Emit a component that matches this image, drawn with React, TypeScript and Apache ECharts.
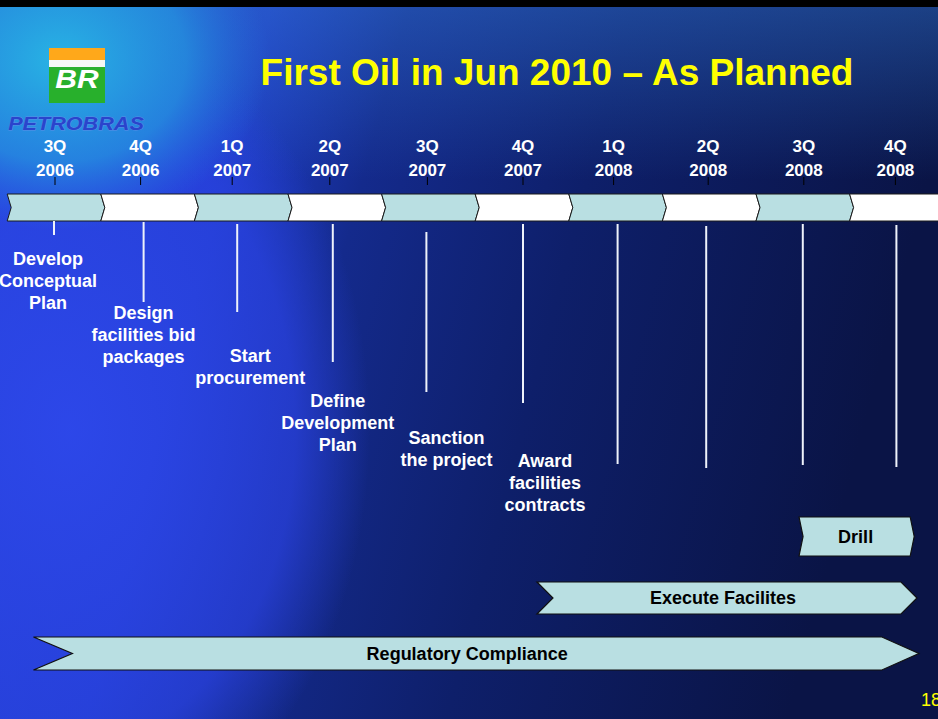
import React, { useEffect, useRef } from "react";
import * as echarts from "echarts";

// ---- data ----
const quarters = ["3Q", "4Q", "1Q", "2Q", "3Q", "4Q", "1Q", "2Q", "3Q", "4Q"];
const years = ["2006", "2006", "2007", "2007", "2007", "2007", "2008", "2008", "2008", "2008"];
const milestoneNames = [
  "Develop\nConceptual\nPlan",
  "Design\nfacilities bid\npackages",
  "Start\nprocurement",
  "Define\nDevelopment\nPlan",
  "Sanction\nthe project",
  "Award\nfacilities\ncontracts",
];
const milestoneQuarter = [0, 1, 2, 3, 4, 5];
const phaseNames = ["Drill", "Execute Facilites", "Regulatory Compliance"];
const phaseStart = [7.96, 5.16, -0.22];
const phaseEnd = [9.19, 9.22, 9.24];
const titleText = "First Oil in Jun 2010 – As Planned";
const pageNumber = "18";

// ---- layout (positions / sizes, not data) ----
const W = 938;
const H = 719;
const firstQuarterX = 54;
const quarterStep = 93.6;
const bandTop = 194;
const bandBottom = 221;
const qLabelDx = [1, -7, -9, -5, -1, 1, -2, -1, 1, -1];
const qLabelY = 146;
const yearLabelY = 170;
const tickTop = 177;
const tickBottom = 185;
const lineTop = [221, 222, 224, 224, 232, 224, 224, 226, 224, 225];
const lineBottom = [235, 302, 312, 362, 392, 403, 464, 468, 465, 467];
const lineDx = [0, -4, -4, -2, -2, 1, 2, -3, 0, 0];
const labelDx = [-6, -4, 9, 3, 18, 23];
const labelFirstY = [259, 313, 356, 401, 438, 461];
const phaseTop = [517, 582, 637];
const phaseBottom = [556, 614, 670];
const phaseNotch = [4, 16, 39];
const phasePoint = [4, 16, 37];
const phaseLabelDx = [-1, -4, -9];

const FONT = '"Liberation Sans", Arial, Helvetica, sans-serif';
const CYAN = "#b9dfe2";

export default function App() {
  const ref = useRef<HTMLDivElement>(null);
  useEffect(() => {
    if (!ref.current) return;
    const chart = echarts.init(ref.current, undefined, { renderer: "svg" });

    const option: any = {
      animation: false,
      backgroundColor: "#0b1548",
      grid: { left: 0, right: 0, top: 0, bottom: 0, containLabel: false },
      xAxis: {
        type: "value",
        min: -firstQuarterX / quarterStep,
        max: (W - firstQuarterX) / quarterStep,
        show: false,
      },
      yAxis: { type: "value", min: 0, max: H, inverse: true, show: false },
      graphic: {
        elements: [
          {
            type: "rect",
            z: -20,
            silent: true,
            shape: { x: 0, y: 0, width: W, height: H },
            style: {
              fill: new echarts.graphic.LinearGradient(0, 0, 1, 0.2, [
                { offset: 0, color: "#2447d8" },
                { offset: 0.28, color: "#1e3cc4" },
                { offset: 0.42, color: "#142a8c" },
                { offset: 0.65, color: "#0e1f6a" },
                { offset: 1, color: "#0a1446" },
              ]),
            },
          },
          {
            type: "rect",
            z: -19,
            silent: true,
            shape: { x: 0, y: 0, width: W, height: 180 },
            style: {
              fill: new echarts.graphic.LinearGradient(0, 0, 0, 1, [
                { offset: 0, color: "rgba(50,120,210,0.45)" },
                { offset: 1, color: "rgba(50,120,210,0)" },
              ]),
            },
          },
          {
            type: "ellipse",
            z: -18,
            silent: true,
            shape: { cx: 70, cy: 430, rx: 300, ry: 420 },
            style: {
              fill: new echarts.graphic.RadialGradient(0.5, 0.5, 0.5, [
                { offset: 0, color: "rgba(46,72,236,0.9)" },
                { offset: 0.75, color: "rgba(42,66,226,0.7)" },
                { offset: 1, color: "rgba(42,66,226,0)" },
              ]),
            },
          },
          {
            type: "ellipse",
            z: -17,
            silent: true,
            shape: { cx: 60, cy: 60, rx: 210, ry: 170 },
            style: {
              fill: new echarts.graphic.RadialGradient(0.5, 0.5, 0.5, [
                { offset: 0, color: "rgba(40,180,228,1)" },
                { offset: 0.6, color: "rgba(36,150,224,0.75)" },
                { offset: 1, color: "rgba(36,120,224,0)" },
              ]),
            },
          },
          {
            type: "rect",
            z: 10,
            silent: true,
            shape: { x: 0, y: 0, width: W, height: 7 },
            style: { fill: "#000000" },
          },
          // logo
          { type: "rect", z: 10, silent: true, shape: { x: 49, y: 48, width: 56, height: 55 }, style: { fill: "#f4f8f4" } },
          { type: "rect", z: 11, silent: true, shape: { x: 49, y: 48, width: 56, height: 12 }, style: { fill: "#ffa81a" } },
          { type: "rect", z: 11, silent: true, shape: { x: 49, y: 67, width: 56, height: 36 }, style: { fill: "#28b02c" } },
          {
            type: "text",
            z: 12,
            silent: true,
            x: 77,
            y: 79,
            scaleX: 1.2,
            style: {
              text: "BR",
              fill: "#ffffff",
              font: "italic bold 25px " + FONT,
              align: "center",
              verticalAlign: "middle",
            },
          },
          {
            type: "text",
            z: 12,
            silent: true,
            x: 76,
            y: 124,
            scaleX: 1.2,
            style: {
              text: "PETROBRAS",
              fill: "#2a44cc",
              stroke: "#5b8ee8",
              lineWidth: 0.8,
              font: "italic bold 18px " + FONT,
              align: "center",
              verticalAlign: "middle",
            },
          },
          {
            type: "text",
            z: 12,
            silent: true,
            x: 557,
            y: 72,
            style: {
              text: titleText,
              fill: "#ffff00",
              font: "bold 37px " + FONT,
              align: "center",
              verticalAlign: "middle",
            },
          },
          {
            type: "text",
            z: 12,
            silent: true,
            x: 921,
            y: 700,
            style: {
              text: pageNumber,
              fill: "#ffff00",
              font: "18px " + FONT,
              align: "left",
              verticalAlign: "middle",
            },
          },
        ],
      },
      series: [
        {
          type: "custom",
          name: "quarters",
          silent: true,
          data: quarters.map((_, i) => [i]),
          renderItem: (params: any, api: any) => {
            const i = api.value(0);
            const x = api.coord([i, 0])[0] + qLabelDx[i];
            const yq = api.coord([i, qLabelY])[1];
            const yy = api.coord([i, yearLabelY])[1];
            const t0 = api.coord([i, tickTop])[1];
            const t1 = api.coord([i, tickBottom])[1];
            return {
              type: "group",
              children: [
                {
                  type: "text",
                  x,
                  y: yq,
                  style: {
                    text: quarters[i],
                    fill: "#ffffff",
                    font: "bold 17px " + FONT,
                    align: "center",
                    verticalAlign: "middle",
                  },
                },
                {
                  type: "text",
                  x,
                  y: yy,
                  style: {
                    text: years[i],
                    fill: "#ffffff",
                    font: "bold 17px " + FONT,
                    align: "center",
                    verticalAlign: "middle",
                  },
                },
                {
                  type: "line",
                  shape: { x1: x, y1: t0, x2: x, y2: t1 },
                  style: { stroke: "#000000", lineWidth: 1 },
                },
              ],
            };
          },
        },
        {
          type: "custom",
          name: "band",
          silent: true,
          data: quarters.map((_, i) => [i]),
          renderItem: (params: any, api: any) => {
            const i = api.value(0);
            const a = api.coord([i - 0.5, bandTop]);
            const b = api.coord([i + 0.5, bandBottom]);
            const mid = (a[1] + b[1]) / 2;
            const d = 4;
            return {
              type: "polygon",
              shape: {
                points: [
                  [a[0], a[1]],
                  [b[0], a[1]],
                  [b[0] + d, mid],
                  [b[0], b[1]],
                  [a[0], b[1]],
                  [a[0] + d, mid],
                ],
              },
              style: { fill: i % 2 === 0 ? CYAN : "#ffffff", stroke: "#1b1b1b", lineWidth: 1 },
            };
          },
        },
        {
          type: "custom",
          name: "lines",
          silent: true,
          data: quarters.map((_, i) => [i]),
          renderItem: (params: any, api: any) => {
            const i = api.value(0);
            const p0 = api.coord([i, lineTop[i]]);
            const p1 = api.coord([i, lineBottom[i]]);
            const x = p0[0] + lineDx[i];
            return {
              type: "line",
              shape: { x1: x, y1: p0[1], x2: x, y2: p1[1] },
              style: { stroke: "#eef2fa", lineWidth: 2 },
            };
          },
        },
        {
          type: "custom",
          name: "milestones",
          silent: true,
          data: milestoneQuarter.map((q, k) => [q, k]),
          renderItem: (params: any, api: any) => {
            const q = api.value(0);
            const k = api.value(1);
            const p = api.coord([q, labelFirstY[k] - 11]);
            return {
              type: "text",
              x: p[0] + labelDx[k],
              y: p[1],
              style: {
                text: milestoneNames[k],
                fill: "#ffffff",
                font: "bold 18px " + FONT,
                align: "center",
                verticalAlign: "top",
                lineHeight: 22,
              },
            };
          },
        },
        {
          type: "custom",
          name: "phases",
          silent: true,
          data: phaseNames.map((_, k) => [phaseStart[k], phaseEnd[k], k]),
          renderItem: (params: any, api: any) => {
            const k = api.value(2);
            const a = api.coord([api.value(0), phaseTop[k]]);
            const b = api.coord([api.value(1), phaseBottom[k]]);
            const mid = (a[1] + b[1]) / 2;
            const n = phaseNotch[k];
            const pt = phasePoint[k];
            return {
              type: "group",
              children: [
                {
                  type: "polygon",
                  shape: {
                    points: [
                      [a[0], a[1]],
                      [b[0] - pt, a[1]],
                      [b[0], mid],
                      [b[0] - pt, b[1]],
                      [a[0], b[1]],
                      [a[0] + n, mid],
                    ],
                  },
                  style: { fill: CYAN, stroke: "#111111", lineWidth: 1.2 },
                },
                {
                  type: "text",
                  x: (a[0] + b[0]) / 2 + phaseLabelDx[k],
                  y: mid,
                  style: {
                    text: phaseNames[k],
                    fill: "#000000",
                    font: "bold 18px " + FONT,
                    align: "center",
                    verticalAlign: "middle",
                  },
                },
              ],
            };
          },
        },
      ],
    };

    chart.setOption(option);
    return () => chart.dispose();
  }, []);

  return <div ref={ref} style={{ position: "fixed", left: 0, top: 0, width: W, height: H }} />;
}
